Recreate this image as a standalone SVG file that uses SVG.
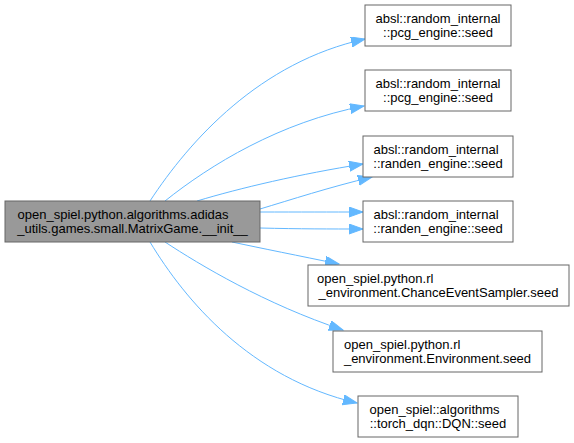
<svg xmlns="http://www.w3.org/2000/svg" width="574" height="443" viewBox="0 0 574 443">
<style>
.box{fill:#ffffff;stroke:#666666;stroke-width:1}
.main{fill:#999999;stroke:#666666;stroke-width:1}
text{font-family:"Liberation Sans",Arial,Helvetica,sans-serif;font-size:13px;fill:#000000}
.m{text-anchor:middle}
.edge{fill:none;stroke:#63b8ff;stroke-width:1;marker-end:url(#arr)}
</style>
<defs>
<marker id="arr" markerUnits="userSpaceOnUse" markerWidth="16" markerHeight="12" refX="14" refY="5" orient="auto">
<path d="M0,0 L14,5 L0,10 z" fill="#63b8ff" stroke="#63b8ff" stroke-width="1"/>
</marker>
</defs>
<rect width="574" height="443" fill="#ffffff"/>
<g id="edges">
<path class="edge" d="M150,201 C190,140 260,62 365,39"/>
<path class="edge" d="M165,201 C210,165 280,122 364,106"/>
<path class="edge" d="M197,201 C240,188 300,174 363,164"/>
<path class="edge" d="M260,209 C290,200 330,187 372,177"/>
<path class="edge" d="M260,212 C300,212 330,212 363,212"/>
<path class="edge" d="M260,228 C300,229 330,229 363,229"/>
<path class="edge" d="M232,242 C260,248 300,256 339,264"/>
<path class="edge" d="M165,242 C200,265 265,304 343,330"/>
<path class="edge" d="M150,242 C185,300 250,378 357,403"/>
</g>
<g id="node_main">
<rect class="main" x="5" y="201" width="255" height="41"/>
<text x="17.5" y="219">open_spiel.python.algorithms.adidas</text>
<text class="m" x="132.5" y="233">_utils.games.small.MatrixGame.__init__</text>
</g>
<g id="node1">
<rect class="box" x="365" y="5" width="146" height="41"/>
<text class="m" x="438" y="23">absl::random_internal</text>
<text class="m" x="438" y="37">::pcg_engine::seed</text>
</g>
<g id="node2">
<rect class="box" x="365" y="70" width="146" height="41"/>
<text class="m" x="438" y="88">absl::random_internal</text>
<text class="m" x="438" y="102">::pcg_engine::seed</text>
</g>
<g id="node3">
<rect class="box" x="363" y="136" width="150" height="41"/>
<text x="373.5" y="154">absl::random_internal</text>
<text class="m" x="438" y="168">::randen_engine::seed</text>
</g>
<g id="node4">
<rect class="box" x="363" y="201" width="150" height="41"/>
<text x="373.5" y="219">absl::random_internal</text>
<text class="m" x="438" y="233">::randen_engine::seed</text>
</g>
<g id="node5">
<rect class="box" x="308" y="265" width="261" height="41"/>
<text x="317" y="283">open_spiel.python.rl</text>
<text class="m" x="438.5" y="297">_environment.ChanceEventSampler.seed</text>
</g>
<g id="node6">
<rect class="box" x="333" y="331" width="209" height="41"/>
<text x="344" y="349">open_spiel.python.rl</text>
<text class="m" x="437.5" y="363">_environment.Environment.seed</text>
</g>
<g id="node7">
<rect class="box" x="358" y="396" width="160" height="41"/>
<text x="369.5" y="414">open_spiel::algorithms</text>
<text class="m" x="438" y="428">::torch_dqn::DQN::seed</text>
</g>
</svg>
